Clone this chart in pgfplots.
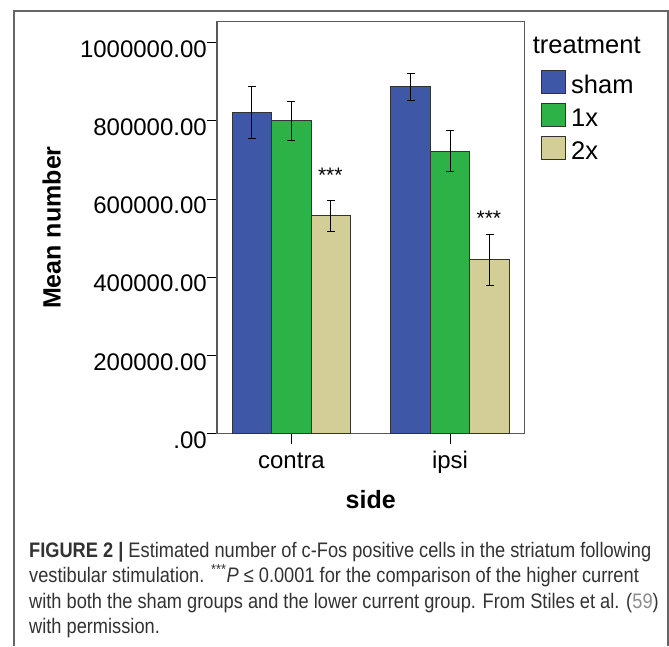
\documentclass[border=0pt]{standalone}
\usepackage{fontspec}
\usepackage{pgfplots}
\pgfplotsset{compat=1.18}
\usepackage{pgfplotstable}
\setmainfont{Liberation Sans}
\newfontfamily\capfont[FakeStretch=0.868]{Liberation Sans}
\definecolor{shamc}{RGB}{62,87,167}
\definecolor{onexc}{RGB}{44,178,70}
\definecolor{twoxc}{RGB}{211,206,152}
\definecolor{captxt}{RGB}{50,50,50}

\pgfplotstableread{
x y err
0 821700 67000
1 886700 34200
}\sham
\pgfplotstableread{
x y err
0 800000 49500
1 722000 52500
}\onex
\pgfplotstableread{
x y err
0 556700 40000
1 444200 66200
}\twox

\begin{document}
\begin{tikzpicture}
\path[use as bounding box] (0pt,0pt) rectangle (669pt,646pt);
\draw[black!60, line width=1.2pt] (14pt,0pt) -- (14pt,635pt) -- (668pt,635pt) -- (668pt,0pt);
\begin{axis}[
  at={(217pt,212.5pt)}, anchor=south west,
  scale only axis, width=307.5pt, height=411.8pt,
  xmin=-0.47, xmax=1.47, ymin=0, ymax=1053700,
  scaled y ticks=false,
  ybar, bar width=39.5pt,
  xtick={0,1}, xticklabels={contra,ipsi},
  ytick={0,200000,400000,600000,800000,1000000},
  yticklabels={.00,200000.00,400000.00,600000.00,800000.00,1000000.00},
  xtick pos=bottom, ytick pos=left,
  tick align=outside, major tick length=10pt,
  tick style={black, line width=1pt},
  axis line style={draw=black!65, line width=1.2pt},
  /pgf/number format/assume math mode=true,
  ticklabel style={font=\fontsize{24}{24}\selectfont},
  yticklabel style={inner xsep=0pt, yshift=-6.5pt},
  xticklabel style={anchor=base, yshift=-25pt},
  xlabel={side}, ylabel={Mean number},
  label style={font=\fontsize{25}{25}\selectfont\bfseries},
  xlabel style={at={(axis description cs:0.5,-0.1816)}, anchor=base},
  ylabel style={at={(axis description cs:-0.5083,0.5)}, anchor=base},
  error bars/y dir=both, error bars/y explicit,
  error bars/error mark options={rotate=90, mark size=4pt, line width=1pt, black},
  error bars/error bar style={line width=1pt, black},
  legend style={at={(1.0537,0.8827)}, anchor=north west, draw=none, fill=none,
    inner sep=0pt, row sep=5.6pt, column sep=5pt,
    font=\fontsize{25.5}{25.5}\selectfont,
    nodes={inner sep=0pt, text height=22.7pt, text depth=4pt}},
  legend cell align=left,
  mylegend/.style={legend image code/.code={\draw[##1, line width=1pt] (0pt,-9.35pt) rectangle (24pt,13.35pt);}},
]
\addplot[fill=shamc, draw=black!80, line width=1pt, bar shift=-39.5pt, mylegend]
  table[x=x, y=y, y error=err] {\sham};
\addplot[fill=onexc, draw=black!80, line width=1pt, bar shift=0pt, mylegend]
  table[x=x, y=y, y error=err] {\onex};
\addplot[fill=twoxc, draw=black!80, line width=1pt, bar shift=39.5pt, mylegend]
  table[x=x, y=y, y error=err] {\twox};
\legend{sham,1x,2x}
\node[font=\fontsize{21}{21}\selectfont, anchor=base, inner sep=0pt] at (axis cs:0.245,642000) {***};
\node[font=\fontsize{21}{21}\selectfont, anchor=base, inner sep=0pt] at (axis cs:1.245,531000) {***};
\end{axis}
\node[anchor=base west, inner sep=0pt, font=\fontsize{25.5}{25.5}\selectfont] at (532.7pt,592.7pt) {treatment};
\begin{scope}[every node/.style={anchor=base west, inner sep=0pt, text=captxt, font=\capfont\fontsize{21}{25}\selectfont}]
\node at (29pt,89pt) {\textbf{FIGURE 2 |} Estimated number of c-Fos positive cells in the striatum following};
\node at (29pt,63.5pt) {vestibular stimulation. \textsuperscript{***}\textit{P} ≤ 0.0001 for the comparison of the higher current};
\node at (29pt,38pt) {with both the sham groups and the lower current group. From Stiles et al. ({\color{black!45}59})};
\node at (29pt,12.5pt) {with permission.};
\end{scope}
\end{tikzpicture}
\end{document}
